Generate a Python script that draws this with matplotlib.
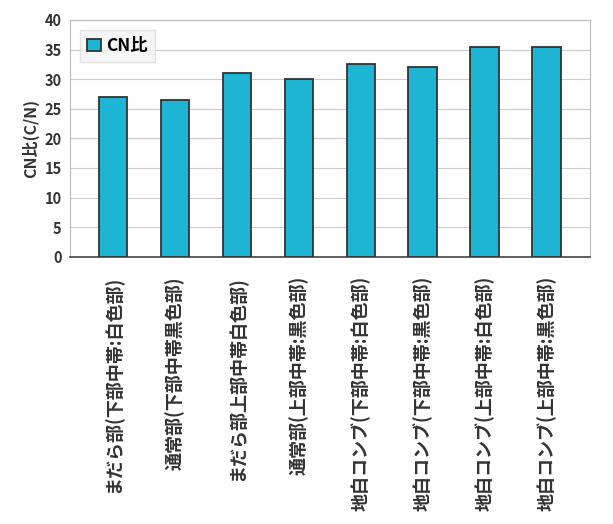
import matplotlib.pyplot as plt
import numpy as np

plt.rcParams['font.family'] = ['Noto Sans CJK JP', 'DejaVu Sans']

# data
labels = ['まだら部(下部中帯:白色部)', '通常部(下部中帯黒色部)', 'まだら部上部中帯白色部)',
          '通常部(上部中帯:黒色部)', '地白コンブ(下部中帯:白色部)', '地白コンブ(下部中帯:黒色部)',
          '地白コンブ(上部中帯:白色部)', '地白コンブ(上部中帯:黒色部)']
cn_ratio = [27, 26.5, 31, 30, 32.5, 32, 35.5, 35.5]

fig = plt.figure(figsize=(6.13, 5.24), dpi=100)
ax = fig.add_axes([0.114, 0.51, 0.848, 0.452])

x = np.arange(len(labels))
ax.bar(x, cn_ratio, width=0.46, color='#1db5d3', edgecolor='#333333', linewidth=1.3,
       label='CN比', zorder=3)

ax.set_ylim(0, 40)
ax.set_yticks(range(0, 41, 5))
ax.set_xlim(-0.7, len(labels) - 0.3)
ax.set_xticks(x)
ax.set_xticklabels(labels, rotation=90, fontsize=13, fontweight='bold', va='top', color='#333333')
ax.tick_params(axis='x', length=0, pad=14)
ax.tick_params(axis='y', labelsize=10.5, length=0, pad=6, labelcolor='#333333')
for t in ax.get_yticklabels():
    t.set_fontweight('bold')
ax.yaxis.grid(True, color='#cccccc', linewidth=0.8, zorder=0)
ax.set_ylabel('CN比(C/N)', fontsize=11.5, fontweight='bold', color='#333333')

for s in ['top', 'right']:
    ax.spines[s].set_color('#bbbbbb')
ax.spines['left'].set_color('#bbbbbb')
ax.spines['bottom'].set_color('#444444')
ax.spines['bottom'].set_linewidth(1.2)

leg = ax.legend(loc='upper left', fontsize=12.5, frameon=True, handlelength=0.8,
                handletextpad=0.3, borderaxespad=0.6, fancybox=False,
                prop={'size': 12.5, 'weight': 'bold'})
leg.get_frame().set_edgecolor('#dddddd')
leg.get_frame().set_facecolor('#f4f4f4')

fig.savefig('out.png', dpi=100)
